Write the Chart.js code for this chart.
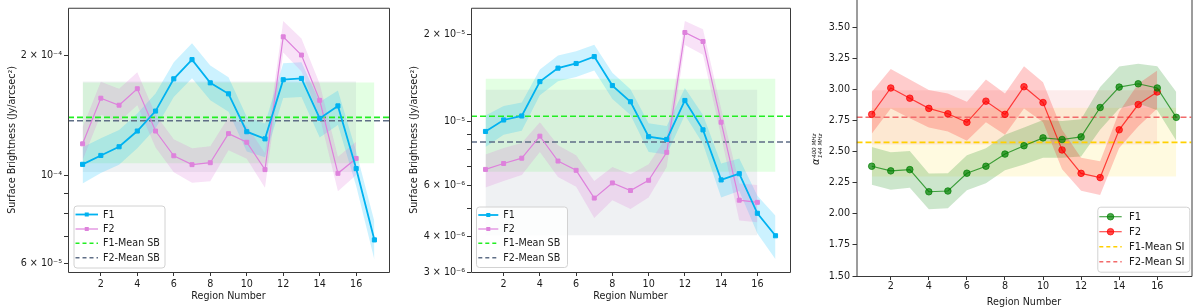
<!DOCTYPE html>
<html>
<head>
<meta charset="utf-8">
<script src="https://cdn.jsdelivr.net/npm/chart.js@4.4.1/dist/chart.umd.min.js"></script>
<style>
  body { margin: 0; background: #fff; }
  #wrap { position: relative; width: 1200px; height: 308px; overflow: hidden; }
  .panel { position: absolute; top: 0; width: 400px; height: 308px; }
</style>
</head>
<body>
<div id="wrap">
  <div class="panel" style="left:0px"><canvas id="sb1" width="400" height="308"></canvas></div>
  <div class="panel" style="left:400px"><canvas id="sb2" width="400" height="308"></canvas></div>
  <!-- the original figure cuts off the top of the third axes: push its canvas up a little -->
  <div class="panel" style="left:800px; top:-6px; height:314px"><canvas id="si" width="400" height="314"></canvas></div>
</div>
<script>
// ---- data ----
const regions = [1, 2, 3, 4, 5, 6, 7, 8, 9, 10, 11, 12, 13, 14, 15, 16, 17];
const xTicks = [2, 4, 6, 8, 10, 12, 14, 16];

// left panel: surface brightness (Jy/arcsec^2)
const sbA_F1    = [1.065e-4, 1.121e-4, 1.179e-4, 1.291e-4, 1.449e-4, 1.746e-4, 1.951e-4, 1.706e-4, 1.601e-4, 1.286e-4, 1.234e-4, 1.737e-4, 1.750e-4, 1.389e-4, 1.493e-4, 1.039e-4, 6.88e-5];
const sbA_F1_hi = [1.176e-4, 1.238e-4, 1.299e-4, 1.429e-4, 1.603e-4, 1.921e-4, 2.146e-4, 1.885e-4, 1.763e-4, 1.402e-4, 1.349e-4, 1.910e-4, 1.921e-4, 1.528e-4, 1.633e-4, 1.147e-4, 7.65e-5];
const sbA_F1_lo = [9.53e-5, 1.013e-4, 1.063e-4, 1.169e-4, 1.311e-4, 1.572e-4, 1.753e-4, 1.542e-4, 1.443e-4, 1.147e-4, 1.109e-4, 1.563e-4, 1.572e-4, 1.243e-4, 1.337e-4, 9.39e-5, 6.13e-5];
const sbA_F2    = [1.199e-4, 1.561e-4, 1.499e-4, 1.649e-4, 1.291e-4, 1.119e-4, 1.063e-4, 1.075e-4, 1.272e-4, 1.210e-4, 1.033e-4, 2.226e-4, 2.003e-4, 1.542e-4, 1.011e-4, 1.102e-4];
const sbA_F2_hi = [1.319e-4, 1.717e-4, 1.649e-4, 1.814e-4, 1.421e-4, 1.231e-4, 1.169e-4, 1.183e-4, 1.399e-4, 1.332e-4, 1.137e-4, 2.440e-4, 2.205e-4, 1.697e-4, 1.113e-4, 1.213e-4];
const sbA_F2_lo = [1.090e-4, 1.418e-4, 1.362e-4, 1.499e-4, 1.174e-4, 1.017e-4, 9.57e-5, 9.66e-5, 1.156e-4, 1.100e-4, 9.30e-5, 2.034e-4, 1.821e-4, 1.402e-4, 9.12e-5, 1.002e-4];
const sbA_mean = [1.397e-4, 1.370e-4];            // F1, F2
const sbA_F1_span = [1.071e-4, 1.710e-4];
const sbA_F2_span = [1.019e-4, 1.720e-4];
const sbA_ticks  = [6e-5, 7e-5, 8e-5, 9e-5, 1e-4, 2e-4];
const sbA_labels = ['6 × 10⁻⁵', '', '', '', '10⁻⁴', '2 × 10⁻⁴'];

// middle panel
const sbB_F1    = [9.24e-6, 1.013e-5, 1.046e-5, 1.377e-5, 1.534e-5, 1.592e-5, 1.682e-5, 1.334e-5, 1.172e-5, 8.86e-6, 8.67e-6, 1.184e-5, 9.36e-6, 6.27e-6, 6.59e-6, 4.80e-6, 4.01e-6];
const sbB_F1_hi = [1.049e-5, 1.132e-5, 1.166e-5, 1.518e-5, 1.696e-5, 1.755e-5, 1.850e-5, 1.478e-5, 1.295e-5, 9.87e-6, 9.66e-6, 1.309e-5, 1.054e-5, 7.15e-6, 7.44e-6, 5.52e-6, 4.71e-6];
const sbB_F1_lo = [8.16e-6, 9.00e-6, 9.29e-6, 1.235e-5, 1.380e-5, 1.428e-5, 1.506e-5, 1.197e-5, 1.054e-5, 7.84e-6, 7.68e-6, 1.054e-5, 8.36e-6, 5.45e-6, 5.74e-6, 4.08e-6, 3.32e-6];
const sbB_F2    = [6.82e-6, 7.15e-6, 7.46e-6, 8.90e-6, 7.29e-6, 6.77e-6, 5.42e-6, 6.12e-6, 5.76e-6, 6.25e-6, 7.82e-6, 2.040e-5, 1.899e-5, 9.95e-6, 5.33e-6, 5.24e-6];
const sbB_F2_hi = [7.68e-6, 8.10e-6, 8.42e-6, 9.95e-6, 8.27e-6, 7.64e-6, 6.22e-6, 6.95e-6, 6.56e-6, 7.10e-6, 8.88e-6, 2.238e-5, 2.094e-5, 1.111e-5, 6.09e-6, 6.02e-6];
const sbB_F2_lo = [5.90e-6, 6.22e-6, 6.52e-6, 7.84e-6, 6.42e-6, 5.93e-6, 4.62e-6, 5.33e-6, 4.97e-6, 5.45e-6, 6.95e-6, 1.845e-5, 1.709e-5, 8.88e-6, 4.53e-6, 4.47e-6];
const sbB_mean = [1.043e-5, 8.49e-6];
const sbB_F1_span = [6.69e-6, 1.410e-5];
const sbB_F2_span = [4.03e-6, 1.289e-5];
const sbB_ticks  = [3e-6, 4e-6, 5e-6, 6e-6, 7e-6, 8e-6, 9e-6, 1e-5, 2e-5];
const sbB_labels = ['3 × 10⁻⁶', '4 × 10⁻⁶', '', '6 × 10⁻⁶', '', '', '', '10⁻⁵', '2 × 10⁻⁵'];

// right panel: spectral index
const si_F1    = [2.382, 2.345, 2.355, 2.177, 2.183, 2.326, 2.382, 2.480, 2.547, 2.610, 2.597, 2.618, 2.854, 3.018, 3.045, 3.011, 2.775];
const si_F1_hi = [2.537, 2.495, 2.505, 2.323, 2.325, 2.470, 2.526, 2.635, 2.693, 2.754, 2.746, 2.760, 3.018, 3.183, 3.206, 3.185, 2.979];
const si_F1_lo = [2.233, 2.193, 2.209, 2.037, 2.045, 2.190, 2.246, 2.349, 2.397, 2.450, 2.450, 2.460, 2.675, 2.847, 2.886, 2.833, 2.587];
const si_F2    = [2.799, 3.011, 2.929, 2.847, 2.804, 2.735, 2.905, 2.799, 3.021, 2.894, 2.513, 2.325, 2.291, 2.675, 2.878, 2.979];
const si_F2_hi = [2.979, 3.164, 3.079, 2.995, 2.966, 2.900, 3.079, 2.966, 3.185, 3.058, 2.675, 2.450, 2.423, 2.820, 3.045, 3.151];
const si_F2_lo = [2.643, 2.847, 2.767, 2.693, 2.661, 2.587, 2.735, 2.635, 2.847, 2.735, 2.357, 2.185, 2.151, 2.529, 2.701, 2.847];
const si_mean = [2.574, 2.776];
const si_F1_span = [2.299, 2.852];
const si_F2_span = [2.556, 2.993];
const si_ticks = [1.5, 1.75, 2.0, 2.25, 2.5, 2.75, 3.0, 3.25, 3.5];

const X_MIN = 0.2, X_MAX = 17.8;

// ---- helpers ----
Chart.defaults.font.family = "'DejaVu Sans', sans-serif";
Chart.defaults.font.size = 9.6;
Chart.defaults.color = '#1a1a1a';

const pts = ys => ys.map((y, i) => ({ x: regions[i], y }));
const flat = (x0, x1, y) => [{ x: x0, y }, { x: x1, y }];
const hidden = { borderWidth: 0, borderColor: 'rgba(0,0,0,0)', pointRadius: 0 };

function fillPair(hiData, loData, color, order) {
  return [
    Object.assign({ data: hiData, fill: '+1', backgroundColor: color, order }, hidden),
    Object.assign({ data: loData, fill: false, order }, hidden)
  ];
}
function series(ys, color, width, style, radius, order) {
  return { data: pts(ys), borderColor: color, borderWidth: width, backgroundColor: color,
           pointStyle: style, pointRadius: radius, pointBorderWidth: 1, pointBorderColor: color,
           fill: false, order };
}
function meanLine(y, color, order) {
  return { data: flat(X_MIN, X_MAX, y), borderColor: color, borderWidth: 1.6,
           borderDash: [6, 3], pointRadius: 0, fill: false, order };
}

// frame + legend + extra label drawn on top
const decor = {
  id: 'decor',
  afterDraw(chart, args, o) {
    const ctx = chart.ctx, a = chart.chartArea;
    ctx.save();
    ctx.strokeStyle = '#3a3a3a';
    ctx.lineWidth = 1;
    ctx.beginPath();
    if (o.noTop) {
      ctx.moveTo(a.left + 0.5, 0);
      ctx.lineTo(a.left + 0.5, a.bottom + 0.5);
      ctx.lineTo(a.right + 0.5, a.bottom + 0.5);
      ctx.lineTo(a.right + 0.5, 0);
    } else {
      ctx.rect(a.left + 0.5, a.top + 0.5, a.right - a.left, a.bottom - a.top);
    }
    ctx.stroke();

    const lg = o.legend;
    ctx.beginPath();
    ctx.roundRect(lg.x + 0.5, lg.y + 0.5, lg.w, lg.h, 3);
    ctx.fillStyle = 'rgba(255,255,255,0.85)';
    ctx.fill();
    ctx.strokeStyle = '#d2d2d2';
    ctx.stroke();
    ctx.font = lg.font + "px 'DejaVu Sans'";
    ctx.textBaseline = 'middle';
    lg.items.forEach((it, i) => {
      const y = lg.rows[i];
      ctx.strokeStyle = it.color;
      ctx.lineWidth = it.width;
      ctx.setLineDash(it.dash || []);
      ctx.beginPath();
      ctx.moveTo(lg.hx0, y);
      ctx.lineTo(lg.hx1, y);
      ctx.stroke();
      ctx.setLineDash([]);
      const mx = (lg.hx0 + lg.hx1) / 2;
      if (it.marker === 'rect') {
        ctx.fillStyle = it.color;
        ctx.fillRect(mx - 2, y - 2, 4, 4);
      } else if (it.marker === 'circle') {
        ctx.fillStyle = it.color;
        ctx.beginPath();
        ctx.arc(mx, y, 3.3, 0, Math.PI * 2);
        ctx.fill();
        ctx.lineWidth = 1;
        ctx.stroke();
      }
      ctx.fillStyle = '#1a1a1a';
      ctx.fillText(it.label, lg.tx, y + 0.5);
    });

    if (o.alpha) {
      const p = o.alpha;
      ctx.translate(p.x, p.y);
      ctx.rotate(-Math.PI / 2);
      ctx.fillStyle = '#1a1a1a';
      ctx.textBaseline = 'alphabetic';
      ctx.font = "italic 10px 'DejaVu Sans'";
      ctx.fillText('α', -16, 2);
      ctx.font = "italic 5.6px 'DejaVu Sans'";
      ctx.fillText('400 MHz', -9, -1);
      ctx.fillText('144 MHz', -9, 5);
    }
    ctx.restore();
  }
};

function xScale(height, pad, titleBottom) {
  return {
    type: 'linear', min: X_MIN, max: X_MAX,
    afterBuildTicks: s => { s.ticks = xTicks.map(v => ({ value: v })); },
    afterFit: s => { s.height = height; },
    ticks: { autoSkip: false, maxRotation: 0, padding: pad, callback: v => String(v) },
    grid: { drawOnChartArea: false, drawTicks: true, tickLength: 4, tickColor: '#333' },
    border: { display: false },
    title: { display: true, text: 'Region Number', padding: { top: 0, bottom: titleBottom } }
  };
}

function sbPanel(id, d) {
  const datasets = [
    ...fillPair(flat(1, 17, d.span1[1]), flat(1, 17, d.span1[0]), 'rgba(0,255,0,0.11)', 6),
    ...fillPair(flat(1, 16, d.span2[1]), flat(1, 16, d.span2[0]), 'rgba(112,128,144,0.11)', 5),
    ...fillPair(pts(d.f1hi), pts(d.f1lo), 'rgba(0,191,255,0.2)', 4),
    ...fillPair(pts(d.f2hi), pts(d.f2lo), 'rgba(218,112,214,0.2)', 3),
    meanLine(d.mean[0], '#22ee22', 2),
    meanLine(d.mean[1], '#5f6e86', 2),
    series(d.f2, 'rgb(222,130,220)', 1.2, 'rect', 2.8, 1),
    series(d.f1, 'rgb(0,178,240)', 1.8, 'rect', 2.9, 0)
  ];
  return new Chart(document.getElementById(id), {
    type: 'line',
    data: { datasets },
    options: {
      responsive: false, animation: false, events: [],
      layout: { padding: d.pad },
      plugins: { legend: { display: false }, tooltip: { enabled: false },
                 decor: { legend: d.legend } },
      scales: {
        x: xScale(36, 3, 6),
        y: {
          type: 'logarithmic', min: d.yMin, max: d.yMax,
          afterBuildTicks: s => { s.ticks = d.ticks.map(v => ({ value: v })); },
          afterFit: s => { s.width = d.yWidth; },
          ticks: { autoSkip: false, padding: 2, callback: (v, i) => d.labels[i] },
          grid: { drawOnChartArea: false, drawTicks: true, tickLength: 4, tickColor: '#333' },
          border: { display: false },
          title: { display: true, text: 'Surface Brightness (Jy/arcsec²)', padding: { top: d.titlePad, bottom: 0 } }
        }
      }
    },
    plugins: [decor]
  });
}

function sbLegend(box, rows, hx0, hx1, tx) {
  return {
    x: box[0], y: box[1], w: box[2], h: box[3], rows, hx0, hx1, tx, font: 9.6,
    items: [
      { label: 'F1', color: 'rgb(0,178,240)', width: 1.8, marker: 'rect' },
      { label: 'F2', color: 'rgb(222,130,220)', width: 1.2, marker: 'rect' },
      { label: 'F1-Mean SB', color: '#22ee22', width: 1.6, dash: [4, 3] },
      { label: 'F2-Mean SB', color: '#5f6e86', width: 1.6, dash: [4, 3] }
    ]
  };
}

sbPanel('sb1', {
  f1: sbA_F1, f1hi: sbA_F1_hi, f1lo: sbA_F1_lo, f2: sbA_F2, f2hi: sbA_F2_hi, f2lo: sbA_F2_lo,
  mean: sbA_mean, span1: sbA_F1_span, span2: sbA_F2_span,
  ticks: sbA_ticks, labels: sbA_labels, yMin: 5.715e-5, yMax: 2.633e-4,
  yWidth: 68, titlePad: 7, pad: { left: 0, right: 11, top: 5, bottom: 0 },
  legend: sbLegend([73.5, 205.5, 91, 62], [214.5, 229, 243.3, 257.7], 75.5, 98, 103)
});

sbPanel('sb2', {
  f1: sbB_F1, f1hi: sbB_F1_hi, f1lo: sbB_F1_lo, f2: sbB_F2, f2hi: sbB_F2_hi, f2lo: sbB_F2_lo,
  mean: sbB_mean, span1: sbB_F1_span, span2: sbB_F2_span,
  ticks: sbB_ticks, labels: sbB_labels, yMin: 3.0e-6, yMax: 2.487e-5,
  yWidth: 71, titlePad: 9, pad: { left: 0, right: 10, top: 5, bottom: 0 },
  legend: sbLegend([76, 206.5, 91, 60.5], [215, 229, 243.3, 257.7], 78.3, 98.3, 103.3)
});

// spectral index panel (canvas is shifted up 6px, so legend/label y values add 6)
const siTickOn = v => si_ticks.some(t => Math.abs(t - v) < 1e-9);
new Chart(document.getElementById('si'), {
  type: 'line',
  data: {
    datasets: [
      ...fillPair(flat(1, 17, si_F1_span[1]), flat(1, 17, si_F1_span[0]), 'rgba(255,215,0,0.12)', 6),
      ...fillPair(flat(1, 16, si_F2_span[1]), flat(1, 16, si_F2_span[0]), 'rgba(240,128,128,0.15)', 5),
      ...fillPair(pts(si_F1_hi), pts(si_F1_lo), 'rgba(0,128,0,0.2)', 4),
      ...fillPair(pts(si_F2_hi), pts(si_F2_lo), 'rgba(255,0,0,0.2)', 3),
      meanLine(si_mean[0], '#ffd000', 2),
      meanLine(si_mean[1], '#f26b6b', 2),
      series(si_F2, 'rgba(255,0,0,0.7)', 1.2, 'circle', 3.3, 1),
      series(si_F1, 'rgba(0,128,0,0.7)', 1.2, 'circle', 3.3, 0)
    ]
  },
  options: {
    responsive: false, animation: false, events: [],
    layout: { padding: { left: 0, right: 8.5, top: 0, bottom: 0 } },
    plugins: {
      legend: { display: false }, tooltip: { enabled: false },
      decor: {
        noTop: true,
        alpha: { x: 16.5, y: 155 },
        legend: {
          x: 297.3, y: 212.7, w: 92, h: 65, rows: [222.7, 237.7, 252.7, 267.7],
          hx0: 299.3, hx1: 321.7, tx: 329, font: 10,
          items: [
            { label: 'F1', color: 'rgba(0,128,0,0.7)', width: 1.2, marker: 'circle' },
            { label: 'F2', color: 'rgba(255,0,0,0.7)', width: 1.2, marker: 'circle' },
            { label: 'F1-Mean SI', color: '#ffd000', width: 1.6, dash: [4, 3] },
            { label: 'F2-Mean SI', color: '#f26b6b', width: 1.6, dash: [4, 3] }
          ]
        }
      }
    },
    scales: {
      x: xScale(32, 1, 0),
      y: {
        type: 'linear', min: 1.5, max: 3.70,
        afterBuildTicks: s => { s.ticks = si_ticks.map(v => ({ value: v })); },
        afterTickToLabelConversion: s => { s.ticks = s.ticks.filter(t => siTickOn(t.value)); },
        afterFit: s => { s.width = 56.5; },
        ticks: { autoSkip: false, includeBounds: false, padding: 2.5,
                 callback: v => siTickOn(v) ? v.toFixed(2) : '' },
        grid: { drawOnChartArea: false, drawTicks: true, tickLength: 4,
                tickColor: c => (c.tick && siTickOn(c.tick.value)) ? '#333' : 'rgba(0,0,0,0)' },
        border: { display: false }
      }
    }
  },
  plugins: [decor]
});
</script>
</body>
</html>
